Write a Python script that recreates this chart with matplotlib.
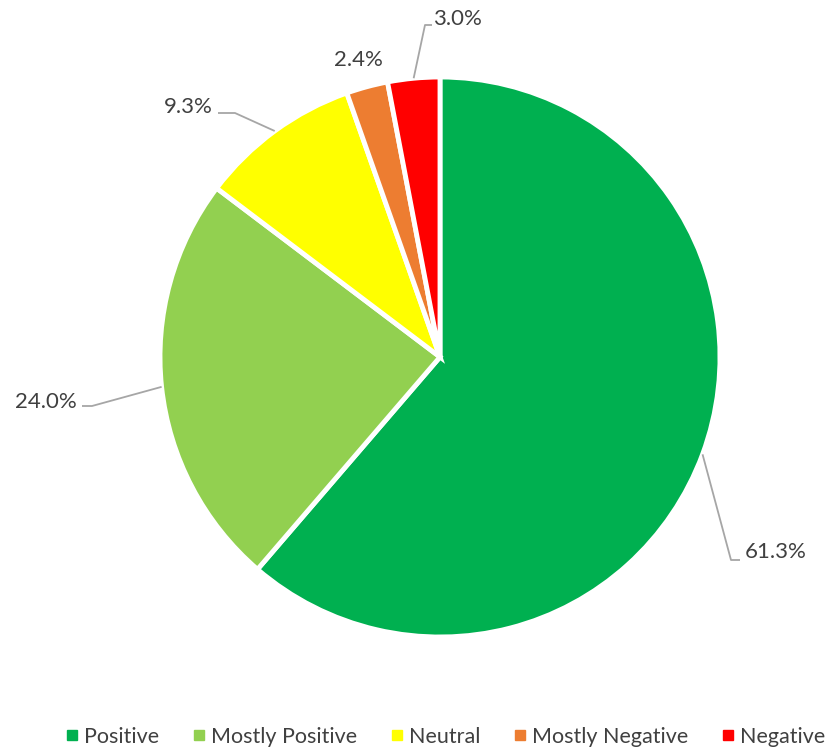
import numpy as np
import matplotlib
matplotlib.use("Agg")
import matplotlib.pyplot as plt
from matplotlib.lines import Line2D

# data
categories = ["Positive", "Mostly Positive", "Neutral", "Mostly Negative", "Negative"]
shares = [61.3, 24.0, 9.3, 2.4, 3.0]
colors = ["#00B050", "#92D050", "#FFFF00", "#ED7D31", "#FF0000"]

plt.rcParams['font.family'] = ['Lato', 'DejaVu Sans']
TXT = "#404040"
LINE = "#A6A6A6"

W, H = 825, 751
fig = plt.figure(figsize=(W / 100, H / 100), dpi=100)
ax = fig.add_axes([0, 0, 1, 1])

cx, cy, r = 440, H - 357, 280
wedges, _ = ax.pie(shares, colors=colors, startangle=90, counterclock=False,
                   center=(cx, cy), radius=r, frame=True,
                   wedgeprops=dict(edgecolor="white", linewidth=3.5))
ax.set_xlim(0, W)
ax.set_ylim(0, H)
ax.set_aspect("equal")
ax.axis("off")

# label layout: (text x, text y in pixels from top, ha, elbow points)
layout = [
    (745, 552, "left", [(731, 560), (740, 560)]),
    (77, 402, "right", [(92, 406), (82, 406)]),
    (213, 107, "right", [(235, 113), (218, 113)]),
    (383, 60, "right", None),
    (433, 19, "left", [(425, 25), (432, 25)]),
]

for w, val, (tx, ty, ha, elbow) in zip(wedges, shares, layout):
    mid = np.deg2rad((w.theta1 + w.theta2) / 2)
    ex, ey = cx + r * np.cos(mid), cy + r * np.sin(mid)
    if elbow is not None:
        xs = [ex] + [p[0] for p in elbow]
        ys = [ey] + [H - p[1] for p in elbow]
        ax.plot(xs, ys, color=LINE, lw=1.3, solid_capstyle="butt")
    ax.text(tx, H - ty, f"{val:.1f}%", ha=ha, va="center", fontsize=16, color=TXT)

handles = [Line2D([], [], marker="s", linestyle="none", markersize=7,
                  markerfacecolor=c, markeredgecolor=c) for c in colors]
fig.legend(handles, categories, loc="center", bbox_to_anchor=(445 / W, 1 - 737 / H),
           ncol=5, frameon=False, fontsize=15.5, handletextpad=0.2,
           columnspacing=1.5, labelcolor=TXT, handlelength=0.7)

fig.savefig("out.png", dpi=100)
